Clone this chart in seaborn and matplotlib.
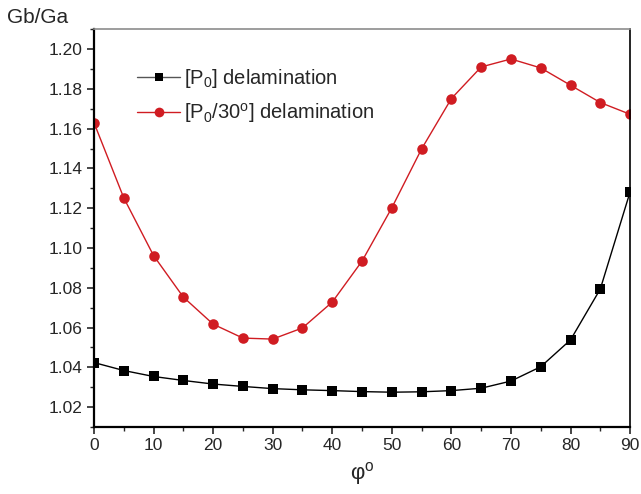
import matplotlib
matplotlib.use("Agg")
import matplotlib.pyplot as plt
from matplotlib.ticker import MultipleLocator, FormatStrFormatter
import seaborn as sns
import pandas as pd

angle = [0, 5, 10, 15, 20, 25, 30, 35, 40, 45, 50, 55, 60, 65, 70, 75, 80, 85, 90]
p0 = [1.0424, 1.0384, 1.0354, 1.0334, 1.0316, 1.0304, 1.0293, 1.0287, 1.0283, 1.0278,
      1.0275, 1.0277, 1.0283, 1.0295, 1.0331, 1.0403, 1.0538, 1.0794, 1.1282]
p0_30 = [1.1630, 1.1252, 1.0962, 1.0753, 1.0617, 1.0547, 1.0542, 1.0598, 1.0728, 1.0934,
         1.1202, 1.1498, 1.1751, 1.1910, 1.1950, 1.1905, 1.1818, 1.1731, 1.1672]
labels = ["[P$_\\mathregular{0}$] delamination",
          "[P$_\\mathregular{0}$/30$^\\mathregular{o}$] delamination"]

sns.set_style("white")
plt.rcParams["font.family"] = ["Liberation Sans", "DejaVu Sans"]
plt.rcParams["mathtext.fontset"] = "custom"
plt.rcParams["mathtext.rm"] = "Liberation Sans"
plt.rcParams["mathtext.it"] = "Liberation Sans:italic"

df = pd.DataFrame({
    "angle": angle * 2,
    "ratio": p0 + p0_30,
    "series": [labels[0]] * len(angle) + [labels[1]] * len(angle),
})

fig = plt.figure(figsize=(6.41, 4.94), dpi=100)
ax = fig.add_axes([0.1466, 0.1356, 0.8364, 0.8054])

sns.lineplot(data=df, x="angle", y="ratio", hue="series", style="series",
             palette={labels[0]: "black", labels[1]: "#d01c22"},
             markers={labels[0]: "s", labels[1]: "o"}, dashes=False,
             markersize=6.5, linewidth=1.0, markeredgewidth=0, ax=ax)
# circles drawn a little larger than squares
for line in ax.lines:
    if line.get_marker() == "o":
        line.set_markersize(7.6)

ax.set_xlim(0, 90)
ax.set_ylim(1.01, 1.21)
ax.xaxis.set_major_locator(MultipleLocator(10))
ax.xaxis.set_minor_locator(MultipleLocator(5))
ax.yaxis.set_major_locator(MultipleLocator(0.02))
ax.yaxis.set_minor_locator(MultipleLocator(0.01))
ax.yaxis.set_major_formatter(FormatStrFormatter("%.2f"))
ax.tick_params(axis="both", which="major", direction="out", length=5, width=1.2,
               labelsize=12.5, bottom=True, left=True, top=False, right=False, pad=3)
ax.tick_params(axis="both", which="minor", direction="out", length=3, width=1.0,
               bottom=True, left=True, top=False, right=False)
for side in ["left", "bottom"]:
    ax.spines[side].set_linewidth(1.6)
    ax.spines[side].set_color("black")
ax.spines["right"].set_linewidth(1.2)
ax.spines["right"].set_color("black")
ax.spines["top"].set_linewidth(1.2)
ax.spines["top"].set_color("#8c8c8c")

ax.set_xlabel("φ$^\\mathregular{o}$", fontsize=16, labelpad=5)
ax.set_ylabel("")
fig.text(0.011, 0.965, "Gb/Ga", fontsize=15, ha="left", va="center")

leg = ax.legend(loc="upper left", bbox_to_anchor=(0.066, 0.925), frameon=False,
                fontsize=14.5, handlelength=2.1, handletextpad=0.2, labelspacing=0.55,
                borderaxespad=0)
for h in leg.legend_handles:
    h.set_linewidth(1.0)
leg.legend_handles[0].set_color("#555555")
leg.legend_handles[0].set_markerfacecolor("black")
leg.legend_handles[0].set_markersize(6)
leg.legend_handles[1].set_markersize(7)

fig.savefig("out.png", dpi=100)
